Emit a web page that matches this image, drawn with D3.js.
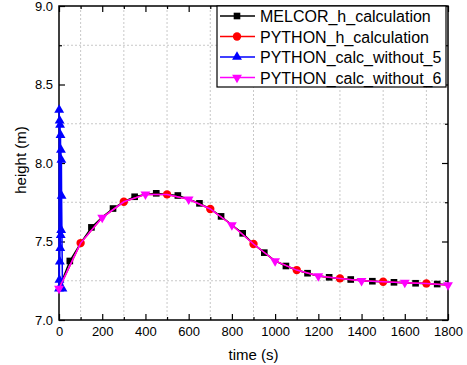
<!DOCTYPE html>
<html><head><meta charset="utf-8">
<script src="https://cdn.jsdelivr.net/npm/d3@7"></script>
<style>body{margin:0;background:#fff}svg{display:block;font-family:"Liberation Sans",Arial,sans-serif}</style>
</head><body><svg id="c" width="467" height="365"></svg>
<script>
// MELCOR series (every 50 s)
const melcorTime = [0,50,100,150,200,250,300,350,400,450,500,550,600,650,700,750,800,850,900,950,1000,1050,1100,1150,1200,1250,1300,1350,1400,1450,1500,1550,1600,1650,1700,1750,1800];
const melcorH = [7.20,7.376,7.49,7.59,7.655,7.71,7.753,7.785,7.80,7.807,7.80,7.793,7.769,7.743,7.707,7.66,7.605,7.552,7.484,7.429,7.376,7.344,7.318,7.298,7.280,7.272,7.265,7.258,7.250,7.247,7.244,7.240,7.237,7.234,7.232,7.229,7.225];
// PYTHON series (every 100 s)
const pyTime = [0,100,200,300,400,500,600,700,800,900,1000,1100,1200,1300,1400,1500,1600,1700,1800];
const pyH = [7.20,7.49,7.652,7.753,7.80,7.80,7.769,7.707,7.605,7.484,7.376,7.318,7.280,7.265,7.250,7.244,7.238,7.233,7.223];
const pyW6H = [7.20,7.49,7.652,7.753,7.80,7.80,7.769,7.707,7.605,7.484,7.376,7.318,7.280,7.265,7.250,7.244,7.238,7.233,7.223];
// PYTHON without 5 (unstable, first seconds)
const pyW5Time = [0,1,2,3,4,5,6,7,8,9,10,11,12,16];
const pyW5H = [7.20,8.338,7.255,8.27,7.371,8.242,7.457,8.178,7.541,8.083,7.573,8.019,7.79,7.20];
const legendLabels = ["MELCOR_h_calculation","PYTHON_h_calculation","PYTHON_calc_without_5","PYTHON_calc_without_6"];
const xTicks = [0,200,400,600,800,1000,1200,1400,1600,1800];
const yTicks = [7.0,7.5,8.0,8.5,9.0];

const svg = d3.select("#c");
const L=59,R=448,T=6,B=320;
const x = d3.scaleLinear().domain([0,1800]).range([L,R]);
const y = d3.scaleLinear().domain([7,9]).range([B,T]);

// grid at minor positions
const xMinor = d3.range(100,1800,200), yMinor=[7.25,7.75,8.25,8.75];
svg.append("g").selectAll("line").data(xMinor).join("line")
  .attr("x1",d=>x(d)).attr("x2",d=>x(d)).attr("y1",T).attr("y2",B)
  .attr("stroke","#c8c8c8").attr("stroke-width",1).attr("stroke-dasharray","2,2");
svg.append("g").selectAll("line").data(yMinor).join("line")
  .attr("y1",d=>y(d)).attr("y2",d=>y(d)).attr("x1",L).attr("x2",R)
  .attr("stroke","#c8c8c8").attr("stroke-width",1).attr("stroke-dasharray","2,2");

// axes
const fmtY = d3.format(".1f");
const gx = svg.append("g").attr("transform",`translate(0,${B})`)
  .call(d3.axisBottom(x).tickValues(xTicks).tickSize(-6).tickPadding(7).tickFormat(d3.format("d")));
const gxm = svg.append("g").attr("transform",`translate(0,${B})`)
  .call(d3.axisBottom(x).tickValues(xMinor).tickSize(-3).tickFormat(""));
const gxt = svg.append("g").attr("transform",`translate(0,${T})`)
  .call(d3.axisTop(x).tickValues(xTicks).tickSize(-6).tickFormat(""));
const gxtm = svg.append("g").attr("transform",`translate(0,${T})`)
  .call(d3.axisTop(x).tickValues(xMinor).tickSize(-3).tickFormat(""));
const gy = svg.append("g").attr("transform",`translate(${L},0)`)
  .call(d3.axisLeft(y).tickValues(yTicks).tickSize(-6).tickPadding(6).tickFormat(fmtY));
const gym = svg.append("g").attr("transform",`translate(${L},0)`)
  .call(d3.axisLeft(y).tickValues(yMinor).tickSize(-3).tickFormat(""));
const gyr = svg.append("g").attr("transform",`translate(${R},0)`)
  .call(d3.axisRight(y).tickValues(yTicks).tickSize(-6).tickFormat(""));
const gyrm = svg.append("g").attr("transform",`translate(${R},0)`)
  .call(d3.axisRight(y).tickValues(yMinor).tickSize(-3).tickFormat(""));
[gx,gxm,gxt,gxtm,gy,gym,gyr,gyrm].forEach(g=>{
  g.select(".domain").remove();
  g.selectAll("line").attr("stroke","#000").attr("stroke-width",1.2);
  g.selectAll("text").attr("font-size",13).attr("fill","#000").attr("font-family","Liberation Sans, Arial, sans-serif");
});
svg.append("rect").attr("x",L).attr("y",T).attr("width",R-L).attr("height",B-T)
  .attr("fill","none").attr("stroke","#000").attr("stroke-width",1.5);

svg.append("text").attr("x",(L+R)/2).attr("y",360).attr("text-anchor","middle")
  .attr("font-size",15).text("time (s)");
svg.append("text").attr("transform",`translate(26,160) rotate(-90)`).attr("text-anchor","middle")
  .attr("font-size",15).text("height (m)");

// series
const plot = svg.append("g");
const line = d3.line().x(d=>x(d[0])).y(d=>y(d[1]));
const zip=(a,b)=>a.map((v,i)=>[v,b[i]]);
const sq = d3.symbol().type(d3.symbolSquare).size(44);
const ci = d3.symbol().type(d3.symbolCircle).size(55);
const tri = d3.symbol().type(d3.symbolTriangle).size(42);
function mark(g,pts,sym,color,rot){
  g.selectAll(null).data(pts).join("path").attr("d",sym)
   .attr("transform",d=>`translate(${x(d[0])},${y(d[1])})${rot?" rotate(180)":""}`)
   .attr("fill",color);
}
const mel = zip(melcorTime,melcorH), py = zip(pyTime,pyH), w5 = zip(pyW5Time,pyW5H), w6 = zip(pyTime,pyW6H);
plot.append("path").datum(mel).attr("d",line).attr("fill","none").attr("stroke","#000").attr("stroke-width",1.5);
mark(plot,mel.filter((d,i)=>i%2===1),sq,"#000");
plot.append("path").datum(py).attr("d",line).attr("fill","none").attr("stroke","#ff0000").attr("stroke-width",1.5);
mark(plot,py.filter((d,i)=>i%2===1),ci,"#ff0000");
plot.append("path").datum(w5).attr("d",line).attr("fill","none").attr("stroke","#0000ff").attr("stroke-width",1.5);
mark(plot,w5,tri,"#0000ff");
plot.append("path").datum(w6).attr("d",line).attr("fill","none").attr("stroke","#ff00ff").attr("stroke-width",1.5);
mark(plot,w6.filter((d,i)=>i%2===0),tri,"#ff00ff",true);

// legend
const lg = svg.append("g");
lg.append("rect").attr("x",217).attr("y",6).attr("width",229).attr("height",81)
  .attr("fill","#fff").attr("stroke","#000").attr("stroke-width",1.2);
const colors=["#000","#ff0000","#0000ff","#ff00ff"];
const syms=[sq,ci,tri,tri];
legendLabels.forEach((lab,i)=>{
  const yy = 16+i*20.5;
  lg.append("line").attr("x1",220).attr("x2",255).attr("y1",yy).attr("y2",yy).attr("stroke",colors[i]).attr("stroke-width",1.5);
  lg.append("path").attr("d",syms[i]).attr("transform",`translate(237,${yy})${i===3?" rotate(180)":""}`).attr("fill",colors[i]);
  lg.append("text").attr("x",260).attr("y",yy+6).attr("font-size",16).text(lab);
});
</script></body></html>
